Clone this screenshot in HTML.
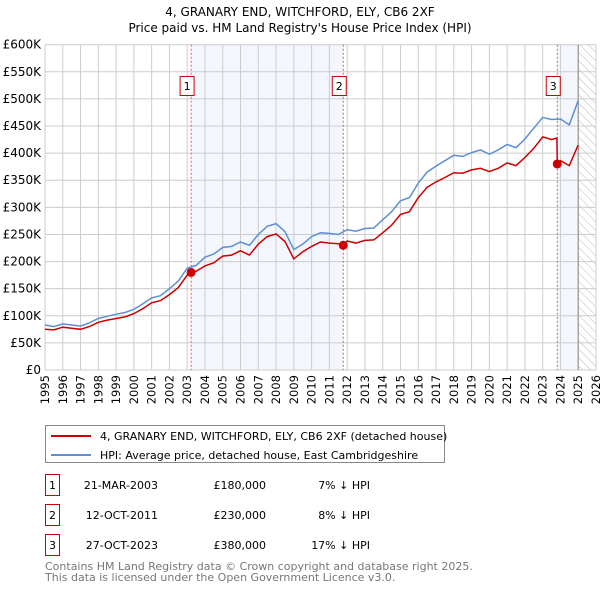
<!DOCTYPE html>
<html><head><meta charset="utf-8"><style>
body{margin:0;background:#fff;font-family:"Liberation Sans","DejaVu Sans",sans-serif}
</style></head><body>
<svg id="c" width="600" height="590" xmlns="http://www.w3.org/2000/svg" style="font-family:'DejaVu Sans','Liberation Sans',sans-serif">
<defs><pattern id="hatch" width="6" height="6" patternUnits="userSpaceOnUse" patternTransform="rotate(-45)"><line x1="0" y1="0" x2="0" y2="6" stroke="#bbb" stroke-width="1"/></pattern></defs>
<text x="300" y="16" text-anchor="middle" font-size="12">4, GRANARY END, WITCHFORD, ELY, CB6 2XF</text>
<text x="300" y="32" text-anchor="middle" font-size="12">Price paid vs. HM Land Registry's House Price Index (HPI)</text>
<g id="plot"></g>
<g>
<rect x="45.5" y="425.5" width="399" height="37" fill="#fff" stroke="#888"/>
<line x1="51" y1="436" x2="91" y2="436" stroke="#cc0000" stroke-width="2"/>
<text x="100" y="440" font-size="11">4, GRANARY END, WITCHFORD, ELY, CB6 2XF (detached house)</text>
<line x1="51" y1="455" x2="91" y2="455" stroke="#5b8fd4" stroke-width="2"/>
<text x="100" y="459" font-size="11">HPI: Average price, detached house, East Cambridgeshire</text>
</g>
<g id="table" font-size="11"></g>
<text x="45" y="570" font-size="11" fill="#777">Contains HM Land Registry data © Crown copyright and database right 2025.</text>
<text x="45" y="581" font-size="11" fill="#777">This data is licensed under the Open Government Licence v3.0.</text>
</svg>
<script>
const hpiYears=[1995,1995.5,1996,1996.5,1997,1997.5,1998,1998.5,1999,1999.5,2000,2000.5,2001,2001.5,2002,2002.5,2003,2003.5,2004,2004.5,2005,2005.5,2006,2006.5,2007,2007.5,2008,2008.5,2009,2009.5,2010,2010.5,2011,2011.5,2012,2012.5,2013,2013.5,2014,2014.5,2015,2015.5,2016,2016.5,2017,2017.5,2018,2018.5,2019,2019.5,2020,2020.5,2021,2021.5,2022,2022.5,2023,2023.5,2024,2024.5,2025];
const hpiValues=[83000,80000,85000,83000,81000,87000,95000,99000,103000,106000,112000,122000,133000,137000,150000,164000,188000,193000,208000,214000,226000,228000,236000,230000,250000,265000,270000,255000,222000,232000,246000,253000,252000,250000,259000,256000,261000,262000,277000,292000,312000,318000,345000,365000,376000,386000,396000,394000,401000,406000,398000,406000,416000,410000,426000,446000,466000,462000,463000,452000,497000];
const redYears=[1995,1995.5,1996,1996.5,1997,1997.5,1998,1998.5,1999,1999.5,2000,2000.5,2001,2001.5,2002,2002.5,2003,2003.22,2003.5,2004,2004.5,2005,2005.5,2006,2006.5,2007,2007.5,2008,2008.5,2009,2009.5,2010,2010.5,2011,2011.5,2011.78,2012,2012.5,2013,2013.5,2014,2014.5,2015,2015.5,2016,2016.5,2017,2017.5,2018,2018.5,2019,2019.5,2020,2020.5,2021,2021.5,2022,2022.5,2023,2023.5,2023.8,2023.82,2024,2024.5,2025];
const redValues=[75000,74000,79000,77000,75000,80000,88000,92000,95000,98000,104000,113000,124000,128000,139000,152000,175000,180000,182000,192000,198000,210000,212000,220000,212000,232000,246000,251000,237000,205000,218000,228000,236000,234000,233000,230000,238000,234000,239000,240000,253000,267000,287000,292000,318000,337000,347000,355000,364000,363000,369000,372000,366000,372000,382000,377000,392000,409000,430000,425000,428000,380000,386000,377000,415000];
const saleYears=[2003.22,2011.78,2023.82];
const saleValues=[180000,230000,380000];
const saleLabels=["1","2","3"];
const saleDates=["21-MAR-2003","12-OCT-2011","27-OCT-2023"];
const salePrices=["£180,000","£230,000","£380,000"];
const saleDiffs=["7% ↓ HPI","8% ↓ HPI","17% ↓ HPI"];
const yTicks=[0,50000,100000,150000,200000,250000,300000,350000,400000,450000,500000,550000,600000];
const yTickLabels=["£0","£50K","£100K","£150K","£200K","£250K","£300K","£350K","£400K","£450K","£500K","£550K","£600K"];
const xTicks=[1995,1996,1997,1998,1999,2000,2001,2002,2003,2004,2005,2006,2007,2008,2009,2010,2011,2012,2013,2014,2015,2016,2017,2018,2019,2020,2021,2022,2023,2024,2025,2026];

const NS="http://www.w3.org/2000/svg";
const L=45,R=596,T=44.7,B=370;
const xs=y=>L+(y-1995)/31*(R-L);
const ys=v=>B-v/600000*(B-T);
const plot=document.getElementById('plot');
function mk(tag,attrs,parent){const e=document.createElementNS(NS,tag);for(const k in attrs)e.setAttribute(k,attrs[k]);(parent||plot).appendChild(e);return e;}
mk('rect',{x:L,y:T,width:R-L,height:B-T,fill:'#fff'});
let s1=mk('rect',{x:xs(saleYears[0]),y:T,width:xs(saleYears[1])-xs(saleYears[0]),height:B-T,fill:'#eef3fc',opacity:0.7});


let s2=mk('rect',{x:xs(saleYears[2]),y:T,width:xs(2025)-xs(saleYears[2]),height:B-T,fill:'#eef3fc',opacity:0.7});


let h=mk('rect',{x:xs(2025),y:T,width:R-xs(2025),height:B-T,fill:'url(#hatch)'});


yTicks.forEach((v,i)=>{
  mk('line',{x1:L,x2:R,y1:ys(v),y2:ys(v),stroke:'#ccc','stroke-width':1});
  let t=mk('text',{x:L-4,y:ys(v)+4,'text-anchor':'end','font-size':12});
  t.textContent=yTickLabels[i];
  
  
});
xTicks.forEach(y=>{
  mk('line',{x1:xs(y),x2:xs(y),y1:T,y2:B,stroke:'#ccc','stroke-width':1});
  const tx=xs(y)+4, ty=B+5;
  let t=mk('text',{x:tx,y:ty,'text-anchor':'end','font-size':11.5,transform:'rotate(-90 '+tx+' '+ty+')'});
  t.textContent=y;
  
  
});
mk('line',{x1:xs(2025),x2:xs(2025),y1:T,y2:B,stroke:'#888','stroke-width':1});
saleYears.forEach((y,i)=>{
  let l=mk('line',{x1:xs(y),x2:xs(y),y1:T,y2:B,stroke:'#e33','stroke-width':0.8,'stroke-dasharray':'2,2'});
  
  
  const bx=xs(y)-11;
  mk('rect',{x:bx,y:76.5,width:14,height:19,fill:'#fff',stroke:'#cc0000'});
  let t=mk('text',{x:bx+7,y:90,'text-anchor':'middle','font-size':11});
  t.textContent=saleLabels[i];
  
  
});
function path(xsA,vs,color,name){
  let d=xsA.map((y,i)=>(i?'L':'M')+xs(y).toFixed(1)+','+ys(vs[i]).toFixed(1)).join('');
  let p=mk('path',{d:d,fill:'none',stroke:color,'stroke-width':1.5});
  
  
}
path(hpiYears,hpiValues,'#5b8fd4','hpi-line');
path(redYears,redValues,'#cc0000','property-line');
saleYears.forEach((y,i)=>{
  let c=mk('circle',{cx:xs(y),cy:ys(saleValues[i]),r:4.5,fill:'#cc0000'});
  
  
});
const tb=document.getElementById('table');
saleLabels.forEach((lab,i)=>{
  const yy=485+i*30;
  mk('rect',{x:45.5,y:yy-10.5,width:14,height:21,fill:'#fff',stroke:'#cc0000'},tb);
  const cols=[[52.5,lab,'middle'],[158,saleDates[i],'end'],[266,salePrices[i],'end'],[370,saleDiffs[i],'end']];
  cols.forEach(c=>{
    let t=mk('text',{x:c[0],y:yy+4,'text-anchor':c[2]},tb);
    t.textContent=c[1];
    
    
  });
});
</script>
</body></html>
